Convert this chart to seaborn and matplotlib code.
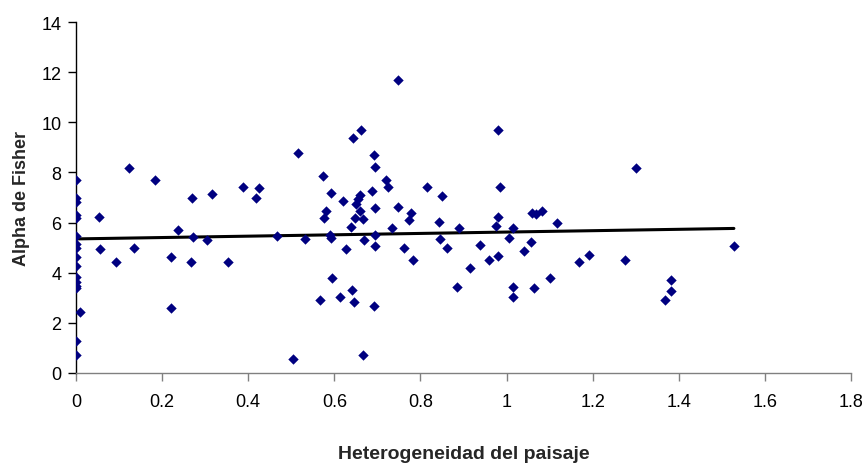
import matplotlib
matplotlib.use("Agg")
import matplotlib.pyplot as plt
import seaborn as sns
import pandas as pd
import numpy as np

heterogeneidad = [
    0, 0, 0, 0, 0, 0, 0, 0, 0, 0, 0, 0, 0, 0, 0.01, 0, 0,
    0.053, 0.056, 0.092, 0.124, 0.135, 0.184, 0.22, 0.22, 0.237, 0.266, 0.27, 0.272,
    0.305, 0.315, 0.354, 0.389, 0.418, 0.425, 0.467, 0.503, 0.516, 0.531,
    0.567, 0.574, 0.575, 0.581, 0.589, 0.592, 0.592, 0.595, 0.614, 0.62, 0.627,
    0.638, 0.641, 0.644, 0.645, 0.647, 0.65, 0.654, 0.659, 0.659, 0.663, 0.666,
    0.667, 0.669, 0.688, 0.691, 0.691, 0.695, 0.695, 0.694, 0.695, 0.72, 0.724,
    0.733, 0.748, 0.748, 0.761, 0.774, 0.777, 0.783, 0.815, 0.843, 0.846, 0.85,
    0.862, 0.886, 0.89, 0.914, 0.939, 0.96, 0.975, 0.981, 0.981, 0.981, 0.985,
    1.006, 1.014, 1.016, 1.016, 1.041, 1.057, 1.059, 1.063, 1.069, 1.082, 1.102,
    1.117, 1.169, 1.191, 1.276, 1.301, 1.368, 1.383, 1.383, 1.528,
]
alpha_fisher = [
    7.68, 7.0, 6.84, 6.29, 6.2, 5.47, 5.16, 5.0, 4.63, 4.25, 3.81, 3.62, 3.47, 3.38, 2.44, 1.27, 0.71,
    6.21, 4.93, 4.43, 8.16, 4.99, 7.68, 4.63, 2.61, 5.72, 4.43, 7.0, 5.44,
    5.3, 7.12, 4.43, 7.43, 6.99, 7.36, 5.47, 0.57, 8.77, 5.35,
    2.9, 7.86, 6.2, 6.48, 5.52, 5.4, 7.18, 3.77, 3.04, 6.88, 4.94,
    5.84, 3.33, 9.36, 2.85, 6.17, 6.76, 6.93, 7.08, 6.47, 9.69, 0.71,
    6.13, 5.29, 7.27, 8.71, 2.66, 8.21, 6.57, 5.49, 5.06, 7.69, 7.42,
    5.8, 11.7, 6.64, 4.97, 6.1, 6.4, 4.5, 7.43, 6.03, 5.33, 7.07,
    4.99, 3.45, 5.79, 4.19, 5.11, 4.5, 5.87, 4.68, 6.23, 9.69, 7.43,
    5.4, 5.8, 3.45, 3.03, 4.87, 5.23, 6.4, 3.4, 6.33, 6.47, 3.77,
    5.97, 4.44, 4.69, 4.49, 8.16, 2.91, 3.27, 3.71, 5.05,
]

x_ticks = [0, 0.2, 0.4, 0.6, 0.8, 1, 1.2, 1.4, 1.6, 1.8]
x_tick_labels = ["0", "0.2", "0.4", "0.6", "0.8", "1", "1.2", "1.4", "1.6", "1.8"]
y_ticks = [0, 2, 4, 6, 8, 10, 12, 14]

df = pd.DataFrame({"x": heterogeneidad, "y": alpha_fisher})

sns.set_style("white")
plt.rcParams["font.family"] = ["Liberation Sans", "DejaVu Sans"]

fig = plt.figure(figsize=(8.67, 4.64), dpi=100)
ax = fig.add_axes([76 / 867, 90 / 464, (851 - 76) / 867, (374 - 23) / 464])

sns.regplot(data=df, x="x", y="y", ax=ax, scatter=False, ci=None,
            line_kws={"color": "black", "linewidth": 2.2})
sns.scatterplot(data=df, x="x", y="y", ax=ax, marker="D", s=28,
                color="#000080", edgecolor="#000080", linewidth=0, zorder=3)

ax.set_xlim(0, 1.8)
ax.set_ylim(0, 14)
ax.set_xticks(x_ticks)
ax.set_xticklabels(x_tick_labels)
ax.set_yticks(y_ticks)
ax.tick_params(axis="both", direction="out", length=5.5, width=1, labelsize=13,
               colors="black", bottom=True, left=True)
ax.tick_params(axis="x", pad=9, color="#808080")
ax.tick_params(axis="y", pad=5)
for side in ["top", "right"]:
    ax.spines[side].set_visible(False)
ax.spines["left"].set_color("black")
ax.spines["bottom"].set_color("#808080")
ax.spines["left"].set_linewidth(1)
ax.spines["bottom"].set_linewidth(1)
ax.set_xlabel("Heterogeneidad del paisaje", fontsize=14, fontweight="bold", labelpad=25)
ax.set_ylabel("Alpha de Fisher", fontsize=13, fontweight="bold", labelpad=8)

fig.savefig("out.png", dpi=100)
